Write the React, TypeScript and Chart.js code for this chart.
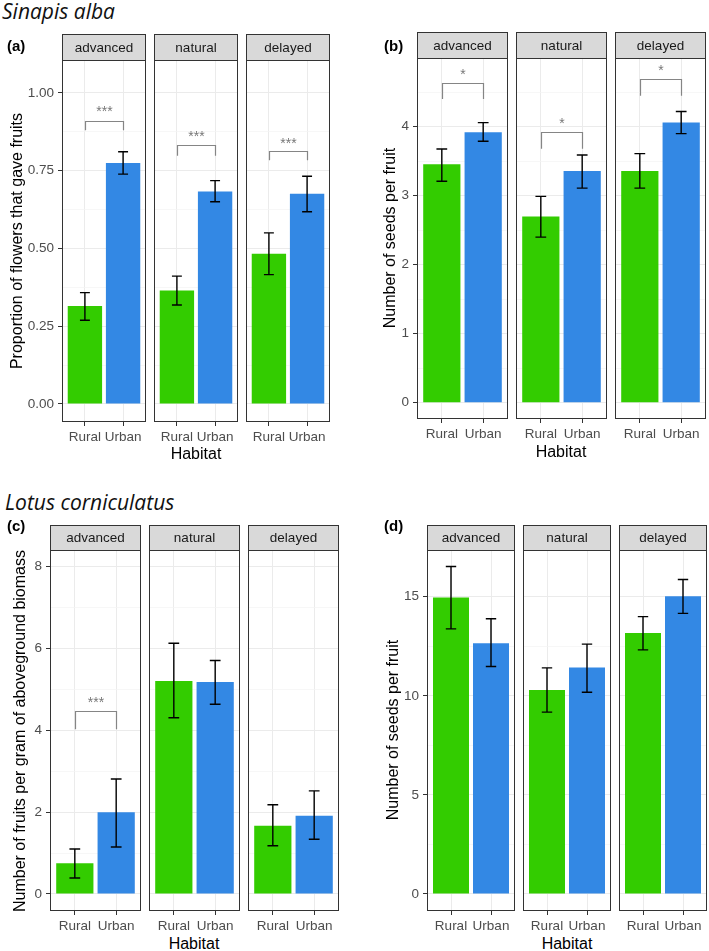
import { useEffect, useRef } from 'react';
import { Chart, registerables } from 'chart.js';

Chart.register(...registerables);

// ---------- data ----------
const FACETS = ['advanced', 'natural', 'delayed'];
const HABITATS = ['Rural', 'Urban'];

// (a) Sinapis alba – proportion of flowers that gave fruits
const aRural = [0.315, 0.365, 0.483];
const aRuralLo = [0.269, 0.318, 0.416];
const aRuralHi = [0.358, 0.411, 0.55];
const aUrban = [0.775, 0.683, 0.676];
const aUrbanLo = [0.739, 0.65, 0.618];
const aUrbanHi = [0.811, 0.718, 0.732];
const aBracketTop = [0.91, 0.832, 0.814];
const aBracketEnd = [0.88, 0.798, 0.784];
const aSigY = [0.95, 0.87, 0.85];
const aSig = ['***', '***', '***'];
const aTicks = [0, 0.25, 0.5, 0.75, 1];
const aTickLabels = ['0.00', '0.25', '0.50', '0.75', '1.00'];

// (b) Sinapis alba – number of seeds per fruit
const bRural = [3.455, 2.7, 3.36];
const bRuralLo = [3.21, 2.4, 3.11];
const bRuralHi = [3.677, 2.99, 3.61];
const bUrban = [3.92, 3.36, 4.06];
const bUrbanLo = [3.79, 3.11, 3.9];
const bUrbanHi = [4.06, 3.59, 4.22];
const bBracketTop = [4.64, 3.92, 4.69];
const bBracketEnd = [4.4, 3.68, 4.45];
const bSigY = [4.81, 4.09, 4.87];
const bSig = ['*', '*', '*'];
const bTicks = [0, 1, 2, 3, 4];
const bTickLabels = ['0', '1', '2', '3', '4'];

// (c) Lotus corniculatus – fruits per gram of aboveground biomass
const cRural = [0.75, 5.21, 1.67];
const cRuralLo = [0.39, 4.31, 1.18];
const cRuralHi = [1.1, 6.13, 2.18];
const cUrban = [2.0, 5.18, 1.91];
const cUrbanLo = [1.15, 4.64, 1.34];
const cUrbanHi = [2.81, 5.71, 2.52];
const cBracketTop = [4.47, null, null];
const cBracketEnd = [4.03, null, null];
const cSigY = [4.76, null, null];
const cSig = ['***', '', ''];
const cTicks = [0, 2, 4, 6, 8];
const cTickLabels = ['0', '2', '4', '6', '8'];

// (d) Lotus corniculatus – number of seeds per fruit
const dRural = [14.96, 10.3, 13.17];
const dRuralLo = [13.38, 9.18, 12.32];
const dRuralHi = [16.53, 11.41, 14.0];
const dUrban = [12.66, 11.43, 15.02];
const dUrbanLo = [11.48, 10.18, 14.16];
const dUrbanHi = [13.89, 12.61, 15.87];
const dBracketTop = [null, null, null];
const dBracketEnd = [null, null, null];
const dSigY = [null, null, null];
const dSig = ['', '', ''];
const dTicks = [0, 5, 10, 15];
const dTickLabels = ['0', '5', '10', '15'];

// ---------- styles / layout ----------
const GREEN = '#33CC00';
const BLUE = '#3388E4';
const FONT = '"Liberation Sans", Arial, Helvetica, sans-serif';
const X_AXIS_H = 24;
const CAP_W = 0.26;

type Layout = {
  lefts: number[]; width: number; stripTop: number; stripBottom: number; bottom: number;
  yAxisW: number; yMin: number; yMax: number;
};

const PANELS = [
  {
    key: 'a', rural: aRural, ruralLo: aRuralLo, ruralHi: aRuralHi, urban: aUrban, urbanLo: aUrbanLo, urbanHi: aUrbanHi,
    bTop: aBracketTop, bEnd: aBracketEnd, sigY: aSigY, sig: aSig, ticks: aTicks, tickLabels: aTickLabels,
    layout: { lefts: [62, 154, 246], width: 84, stripTop: 34, stripBottom: 60, bottom: 422, yAxisW: 62, yMin: -0.058, yMax: 1.106 } as Layout,
  },
  {
    key: 'b', rural: bRural, ruralLo: bRuralLo, ruralHi: bRuralHi, urban: bUrban, urbanLo: bUrbanLo, urbanHi: bUrbanHi,
    bTop: bBracketTop, bEnd: bBracketEnd, sigY: bSigY, sig: bSig, ticks: bTicks, tickLabels: bTickLabels,
    layout: { lefts: [417, 516, 615], width: 91, stripTop: 32, stripBottom: 58, bottom: 419, yAxisW: 40, yMin: -0.236, yMax: 4.996 } as Layout,
  },
  {
    key: 'c', rural: cRural, ruralLo: cRuralLo, ruralHi: cRuralHi, urban: cUrban, urbanLo: cUrbanLo, urbanHi: cUrbanHi,
    bTop: cBracketTop, bEnd: cBracketEnd, sigY: cSigY, sig: cSig, ticks: cTicks, tickLabels: cTickLabels,
    layout: { lefts: [50, 149, 248], width: 91, stripTop: 525, stripBottom: 550, bottom: 911, yAxisW: 50, yMin: -0.416, yMax: 8.41 } as Layout,
  },
  {
    key: 'd', rural: dRural, ruralLo: dRuralLo, ruralHi: dRuralHi, urban: dUrban, urbanLo: dUrbanLo, urbanHi: dUrbanHi,
    bTop: dBracketTop, bEnd: dBracketEnd, sigY: dSigY, sig: dSig, ticks: dTicks, tickLabels: dTickLabels,
    layout: { lefts: [427, 523, 619], width: 88, stripTop: 525, stripBottom: 550, bottom: 911, yAxisW: 50, yMin: -0.858, yMax: 17.36 } as Layout,
  },
];

type Panel = typeof PANELS[number];

function makeFacetChart(canvas: HTMLCanvasElement, p: Panel, f: number) {
  const L = p.layout;
  const first = f === 0;
  const stripH = L.stripBottom - L.stripTop;
  const step = p.ticks[1] - p.ticks[0];
  const allTicks: number[] = [];
  p.ticks.forEach((t) => {
    allTicks.push(t);
    const m = t + step / 2;
    if (m < L.yMax) allTicks.push(m);
  });
  const isMajor = (v: number) => p.ticks.some((t) => Math.abs(t - v) < 1e-9);

  const decor = {
    id: 'facetDecor',
    afterDatasetsDraw(chart: any) {
      const { ctx } = chart;
      const x = chart.scales.x;
      const y = chart.scales.y;
      ctx.save();
      // error bars
      ctx.strokeStyle = '#000';
      ctx.lineWidth = 1.4;
      const capHalf = x.getPixelForValue(1 + CAP_W / 2) - x.getPixelForValue(1);
      const ranges = [
        [p.ruralLo[f], p.ruralHi[f]],
        [p.urbanLo[f], p.urbanHi[f]],
      ];
      ranges.forEach(([lo, hi], i) => {
        const px = x.getPixelForValue(i + 1);
        const yl = y.getPixelForValue(lo);
        const yh = y.getPixelForValue(hi);
        ctx.beginPath();
        ctx.moveTo(px, yl); ctx.lineTo(px, yh);
        ctx.moveTo(px - capHalf, yl); ctx.lineTo(px + capHalf, yl);
        ctx.moveTo(px - capHalf, yh); ctx.lineTo(px + capHalf, yh);
        ctx.stroke();
      });
      // significance bracket
      const bt = p.bTop[f];
      const be = p.bEnd[f];
      if (bt != null && be != null) {
        const x1 = Math.round(x.getPixelForValue(1)) + 0.5;
        const x2 = Math.round(x.getPixelForValue(2)) + 0.5;
        const yt = Math.round(y.getPixelForValue(bt)) + 0.5;
        const ye = y.getPixelForValue(be);
        ctx.strokeStyle = '#858585';
        ctx.lineWidth = 1.2;
        ctx.beginPath();
        ctx.moveTo(x1, ye); ctx.lineTo(x1, yt); ctx.lineTo(x2, yt); ctx.lineTo(x2, ye);
        ctx.stroke();
        const sy = p.sigY[f];
        if (sy != null && p.sig[f]) {
          const fs = 14;
          ctx.fillStyle = '#777777';
          ctx.font = `${fs}px ${FONT}`;
          ctx.textAlign = 'center';
          ctx.textBaseline = 'alphabetic';
          ctx.fillText(p.sig[f], (x1 + x2) / 2, y.getPixelForValue(sy) + fs * 0.57);
        }
      }
      ctx.restore();
    },
    afterDraw(chart: any) {
      const { ctx, chartArea: a } = chart;
      ctx.save();
      // strip
      ctx.fillStyle = '#D9D9D9';
      ctx.fillRect(a.left, 0, a.right - a.left, stripH);
      ctx.fillStyle = '#1A1A1A';
      ctx.font = `13.5px ${FONT}`;
      ctx.textAlign = 'center';
      ctx.textBaseline = 'middle';
      ctx.fillText(FACETS[f], (a.left + a.right) / 2, stripH / 2 + 1);
      // borders
      ctx.strokeStyle = '#333333';
      ctx.lineWidth = 1;
      ctx.strokeRect(a.left + 0.5, 0.5, a.right - a.left - 1, a.bottom - 1);
      ctx.beginPath();
      ctx.moveTo(a.left, stripH + 0.5);
      ctx.lineTo(a.right, stripH + 0.5);
      ctx.stroke();
      ctx.restore();
    },
  };

  return new Chart(canvas, {
    type: 'bar',
    data: {
      datasets: [
        {
          data: [
            { x: 1, y: p.rural[f] },
            { x: 2, y: p.urban[f] },
          ],
          backgroundColor: [GREEN, BLUE],
          borderWidth: 0,
          categoryPercentage: 0.9,
          barPercentage: 1,
        },
      ],
    },
    options: {
      animation: false,
      responsive: false,
      maintainAspectRatio: false,
      events: [],
      layout: { padding: { top: stripH, left: 0, right: 0, bottom: 0 } },
      plugins: { legend: { display: false }, tooltip: { enabled: false }, title: { display: false } },
      scales: {
        x: {
          type: 'linear',
          offset: false,
          min: 0.4,
          max: 2.6,
          afterBuildTicks: (s: any) => { s.ticks = [{ value: 1 }, { value: 2 }]; },
          afterFit: (s: any) => { s.height = X_AXIS_H; s.paddingLeft = 0; s.paddingRight = 0; },
          ticks: {
            callback: (_v: any, i: number) => HABITATS[i],
            color: '#4D4D4D',
            font: { family: FONT, size: 13.5 },
            padding: 3,
            maxRotation: 0,
            autoSkip: false,
          },
          grid: { offset: false, color: '#EBEBEB', lineWidth: 1, tickLength: 4, tickColor: '#333333', tickWidth: 1 },
          border: { display: false },
        },
        y: {
          type: 'linear',
          min: L.yMin,
          max: L.yMax,
          afterBuildTicks: (s: any) => { s.ticks = allTicks.map((v) => ({ value: v })); },
          afterFit: (s: any) => { s.width = first ? L.yAxisW : 0; s.paddingTop = 0; s.paddingBottom = 0; },
          ticks: {
            display: first,
            autoSkip: false,
            callback: (v: any) => {
              const i = p.ticks.findIndex((t) => Math.abs(t - v) < 1e-9);
              return i >= 0 ? p.tickLabels[i] : '';
            },
            color: '#4D4D4D',
            font: { family: FONT, size: 13.5 },
            padding: 4,
          },
          grid: {
            color: (ctx: any) => (isMajor(ctx.tick?.value) ? '#EBEBEB' : '#F3F3F3'),
            lineWidth: (ctx: any) => (isMajor(ctx.tick?.value) ? 1 : 0.7),
            drawTicks: first,
            tickLength: 4,
            tickColor: (ctx: any) => (isMajor(ctx.tick?.value) ? '#333333' : 'rgba(0,0,0,0)'),
            tickWidth: 1,
          },
          border: { display: false },
        },
      },
    } as any,
    plugins: [decor],
  });
}

type TextSpec = { text: string; x: number; y: number; size: number; family?: string; weight?: string; italic?: boolean; rotate?: boolean; align?: 'left' | 'center'; color?: string };

const TEXTS: TextSpec[] = [
  { text: 'Sinapis alba', x: 2, y: 11, size: 21, family: '"Open Sans", sans-serif', italic: true, align: 'left', color: '#111' },
  { text: 'Lotus corniculatus', x: 5, y: 502, size: 21, family: '"Open Sans", sans-serif', italic: true, align: 'left', color: '#111' },
  { text: '(a)', x: 7, y: 45, size: 15, weight: 'bold', align: 'left' },
  { text: '(b)', x: 384, y: 45, size: 15, weight: 'bold', align: 'left' },
  { text: '(c)', x: 7, y: 525, size: 15, weight: 'bold', align: 'left' },
  { text: '(d)', x: 384, y: 525, size: 15, weight: 'bold', align: 'left' },
  { text: 'Proportion of flowers that gave fruits', x: 17, y: 241, size: 16, rotate: true },
  { text: 'Number of seeds per fruit', x: 390, y: 238, size: 16, rotate: true },
  { text: 'Number of fruits per gram of aboveground biomass', x: 20, y: 731, size: 16, rotate: true },
  { text: 'Number of seeds per fruit', x: 393, y: 730, size: 16, rotate: true },
  { text: 'Habitat', x: 196, y: 454, size: 16 },
  { text: 'Habitat', x: 561, y: 452, size: 16 },
  { text: 'Habitat', x: 194, y: 944, size: 16 },
  { text: 'Habitat', x: 567, y: 944, size: 16 },
];

export default function App() {
  const refs = useRef<(HTMLCanvasElement | null)[]>([]);

  useEffect(() => {
    const charts: Chart[] = [];
    PANELS.forEach((p, pi) => {
      p.layout.lefts.forEach((_l, f) => {
        const c = refs.current[pi * 3 + f];
        if (c) charts.push(makeFacetChart(c, p, f));
      });
    });
    return () => charts.forEach((c) => c.destroy());
  }, []);

  const canvases: any[] = [];
  PANELS.forEach((p, pi) => {
    const L = p.layout;
    L.lefts.forEach((left, f) => {
      const first = f === 0;
      const w = L.width + (first ? L.yAxisW : 0);
      const h = L.bottom - L.stripTop + X_AXIS_H;
      canvases.push(
        <canvas
          key={`${p.key}${f}`}
          ref={(el) => { refs.current[pi * 3 + f] = el; }}
          width={w}
          height={h}
          style={{ position: 'absolute', left: left - (first ? L.yAxisW : 0), top: L.stripTop, width: w, height: h }}
        />
      );
    });
  });

  return (
    <div style={{ position: 'absolute', left: 0, top: 0, width: 709, height: 951, background: '#fff', overflow: 'hidden' }}>
      {canvases}
      {TEXTS.map((t, i) => (
        <div
          key={i}
          style={{
            position: 'absolute',
            left: t.x,
            top: t.y,
            fontFamily: t.family || FONT,
            fontSize: t.size,
            fontWeight: (t.weight as any) || 'normal',
            fontStyle: t.italic ? 'italic' : 'normal',
            color: t.color || '#000',
            lineHeight: 1,
            whiteSpace: 'nowrap',
            transform: t.rotate
              ? 'translate(-50%, -50%) rotate(-90deg)'
              : t.align === 'left'
              ? 'translate(0, -50%)'
              : 'translate(-50%, -50%)',
          }}
        >
          {t.text}
        </div>
      ))}
    </div>
  );
}
